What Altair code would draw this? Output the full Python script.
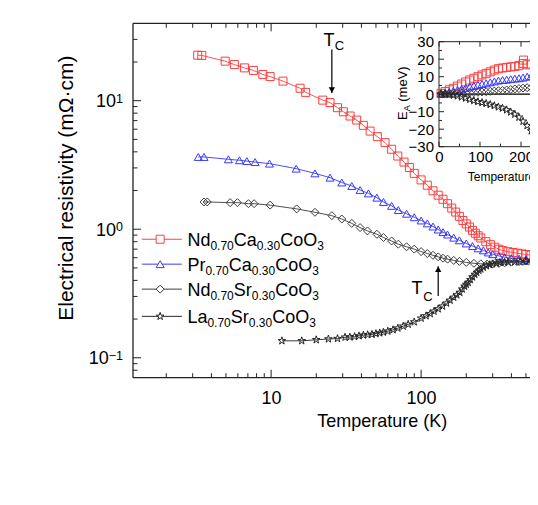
import altair as alt
import pandas as pd

FONT = "Liberation Sans"
FRAME = "#222222"

# ---------------- main panel data (T in K, rho in mOhm cm) ----------------
ndca_T = [3.24, 3.45, 4.94, 5.69, 6.64, 7.62, 8.81, 9.85, 12.0, 15.6, 17.0, 22.1, 24.7, 27.7, 30.3,
          33.6, 37.2, 41.2, 45.7, 51.1, 57.5, 63.6, 69.9, 76.9, 83.5, 90, 100, 110, 120, 130, 140,
          150, 160, 170, 180, 190, 200, 210, 220, 230, 240, 250, 270, 290, 310, 330, 350, 380, 410,
          440, 470, 500, 540, 580, 620]
ndca_rho = [22.6, 22.5, 20.3, 19.1, 18.0, 17.2, 16.0, 15.4, 14.2, 12.5, 11.6, 10.1, 9.67, 8.82, 8.2,
            7.6, 7.07, 6.43, 5.8, 5.25, 4.72, 4.19, 3.71, 3.33, 3.02, 2.72, 2.42, 2.20, 1.99, 1.84, 1.71,
            1.58, 1.46, 1.36, 1.26, 1.17, 1.10, 1.04, 0.98, 0.93, 0.89, 0.855, 0.80, 0.758, 0.725, 0.699,
            0.683, 0.669, 0.659, 0.651, 0.643, 0.636, 0.628, 0.621, 0.615]

prca_T = [3.27, 3.57, 5.19, 6.15, 6.89, 7.82, 9.75, 14.7, 19.6, 24.7, 29.6, 34.5, 39.2, 44.5, 50.7,
          56.1, 63.6, 70.5, 80, 90, 100, 110, 120, 130, 140, 150, 165, 180, 200, 220, 240, 260, 280,
          300, 330, 360, 400, 450, 500, 560, 620]
prca_rho = [3.65, 3.65, 3.50, 3.44, 3.39, 3.33, 3.24, 2.96, 2.72, 2.52, 2.31, 2.17, 2.02, 1.90, 1.76,
            1.63, 1.52, 1.41, 1.32, 1.24, 1.17, 1.11, 1.05, 0.995, 0.95, 0.91, 0.86, 0.82, 0.775, 0.74,
            0.71, 0.685, 0.66, 0.64, 0.62, 0.605, 0.595, 0.59, 0.585, 0.585, 0.585]

ndsr_T = [3.57, 3.75, 5.33, 5.96, 7.06, 7.7, 9.85, 14.8, 19.6, 25.4, 29.6, 34.5, 39.2, 43.9, 50.7,
          56.1, 63.6, 70.5, 80, 90, 100, 110, 120, 130, 140, 150, 165, 180, 200, 225, 250, 275, 300,
          330, 360, 400, 450, 500, 560, 620]
ndsr_rho = [1.63, 1.63, 1.61, 1.61, 1.58, 1.58, 1.54, 1.44, 1.355, 1.275, 1.20, 1.11, 1.03, 0.97, 0.914,
            0.862, 0.81, 0.765, 0.73, 0.70, 0.67, 0.647, 0.627, 0.61, 0.595, 0.585, 0.572, 0.562, 0.552,
            0.543, 0.538, 0.535, 0.537, 0.542, 0.548, 0.555, 0.561, 0.566, 0.569, 0.571]

lasr_T = [11.8, 16.0, 20.0, 24.1, 27.7, 31.1, 33.5, 36, 38.5, 41.2, 44, 47, 50, 53, 56, 60, 65, 70, 76,
          82, 90, 100, 108, 115, 122, 130, 139, 148, 156, 165, 173, 181, 188, 195, 200, 206, 213, 220,
          228, 235, 243, 250, 260, 273, 287, 300, 318, 335, 360, 380, 420, 457, 500, 550, 600]
lasr_rho = [0.1355, 0.1355, 0.138, 0.140, 0.141, 0.1445, 0.145, 0.146, 0.148, 0.150, 0.151, 0.152,
            0.154, 0.156, 0.158, 0.161, 0.165, 0.17, 0.176, 0.182, 0.19, 0.203, 0.212, 0.22, 0.23, 0.24,
            0.252, 0.266, 0.28, 0.295, 0.308, 0.322, 0.342, 0.36, 0.372, 0.385, 0.405, 0.425, 0.445,
            0.461, 0.478, 0.49, 0.505, 0.519, 0.53, 0.537, 0.545, 0.551, 0.553, 0.555, 0.556, 0.557,
            0.56, 0.564, 0.567]

# ---------------- inset data (T in K, E_A in meV) ----------------
in_ndca_T = [5, 15, 25, 35, 45, 55, 65, 75, 85, 95, 105, 115, 125, 135, 145, 155, 165, 175, 185, 195,
             205, 206, 215, 225, 235, 245, 255]
in_ndca_E = [0.5, 1.5, 2.5, 3.4, 4.6, 5.8, 7.0, 8.1, 9.1, 10.0, 11.0, 11.9, 12.8, 13.8, 14.6, 15.0,
             15.3, 15.6, 15.9, 16.3, 17.5, 19.5, 16.8, 17.2, 17.6, 18.0, 18.2]
in_prca_T = [5, 15, 25, 35, 45, 55, 65, 75, 85, 95, 105, 115, 125, 135, 145, 155, 165, 175, 185, 195,
             205, 215, 225, 235, 245]
in_prca_E = [0.3, 0.9, 1.4, 1.9, 2.4, 2.9, 3.6, 4.3, 4.8, 5.3, 5.8, 6.2, 6.8, 7.3, 7.8, 8.1, 8.3, 8.6,
             8.9, 9.1, 9.5, 10.0, 10.4, 11.0, 11.4]
in_ndsr_T = [5, 15, 25, 35, 45, 55, 65, 75, 85, 95, 105, 115, 125, 135, 145, 155, 165, 175, 185, 195,
             205, 215, 225, 235, 245]
in_ndsr_E = [0.2, 0.2, 0.3, 0.5, 0.6, 0.7, 0.8, 0.9, 1.0, 1.1, 1.3, 1.4, 1.6, 1.8, 2.0, 2.2, 2.4, 2.7,
             3.0, 3.2, 3.5, 3.7, 3.8, 3.9, 4.0]
in_lasr_T = [5, 15, 25, 35, 45, 55, 65, 75, 85, 95, 105, 115, 125, 135, 145, 155, 165, 175, 185, 195,
             205, 215, 225, 235, 245]
in_lasr_E = [0.0, -0.1, -0.3, -0.6, -1.0, -1.6, -2.3, -3.0, -3.7, -4.3, -4.8, -5.3, -5.9, -6.6, -7.3,
             -8.0, -9.0, -10.2, -11.5, -13.2, -15.5, -18.0, -21.0, -24.5, -28.5]

# ---------------- categories / ticks ----------------
series_keys = ["NdCa", "PrCa", "NdSr", "LaSr"]
series_colors = ["#ff3d3d", "#3838ff", "#3c3c3c", "#262626"]
STAR = ("M0,-1L0.2245,-0.309L0.951,-0.309L0.363,0.118L0.588,0.809L0,0.382"
        "L-0.588,0.809L-0.363,0.118L-0.951,-0.309L-0.2245,-0.309Z")
series_shapes = ["square", "triangle-up", "diamond", STAR]
series_sizes = [64, 64, 64, 42]
inset_sizes = [26, 26, 22, 26]

legend_parts = [
    [("Nd", 0), ("0.70", 1), ("Ca", 0), ("0.30", 1), ("CoO", 0), ("3", 1)],
    [("Pr", 0), ("0.70", 1), ("Ca", 0), ("0.30", 1), ("CoO", 0), ("3", 1)],
    [("Nd", 0), ("0.70", 1), ("Sr", 0), ("0.30", 1), ("CoO", 0), ("3", 1)],
    [("La", 0), ("0.70", 1), ("Sr", 0), ("0.30", 1), ("CoO", 0), ("3", 1)],
]
legend_rho = [0.836, 0.535, 0.342, 0.21]
legend_T = 1.82

x_labels = [10, 100]
x_major = [10, 100]
x_minor = [2, 3, 4, 5, 6, 7, 8, 9, 20, 30, 40, 50, 60, 70, 80, 90, 200, 300, 400, 500]
y_major = [0.1, 1, 10]
y_exp = ["\u22121", "0", "1"]
y_minor = [0.08, 0.09, 0.2, 0.3, 0.4, 0.5, 0.6, 0.7, 0.8, 0.9, 2, 3, 4, 5, 6, 7, 8, 9, 20, 30]

inset_x_labels = [0, 100, 200, 300]
inset_y_labels = [-30, -20, -10, 0, 10, 20, 30]
inset_x_minor = [50, 150, 250]
inset_y_minor = [-25, -15, -5, 5, 15, 25]

tc_T = [25.4, 130]
tc_tail = [25.0, 0.302]
tc_tip = [11.5, 0.516]

# the figure is cut by the right edge of the window (at about 530 K)
X_DOMAIN = [1.2, 532]
Y_DOMAIN = [0.07, 40]
IX_DOMAIN = [0, 300]
IY_DOMAIN = [-30, 30]
W_PLOT = 397
H_PLOT = 354.4

# Arial / Liberation Sans advance widths (1/1000 em) for composing sub/superscripts
AW = {'0': 556, '1': 556, '2': 556, '3': 556, '4': 556, '5': 556, '6': 556, '7': 556, '8': 556, '9': 556,
      '.': 278, '-': 333, '\u2212': 584, 'N': 722, 'd': 556, 'C': 722, 'a': 556, 'o': 556, 'O': 778,
      'P': 667, 'r': 333, 'S': 667, 'L': 556, 'T': 611, 'E': 667, 'A': 667, ' ': 278, '(': 333,
      ')': 333, 'm': 833, 'e': 556, 'V': 667}


def tw(s, size):
    return sum(AW.get(c, 556) for c in s) * size / 1000.0


ONE = pd.DataFrame({"k": [0]})

# ---------------- main panel ----------------
frames = []
for key, Ts, rs in [("NdCa", ndca_T, ndca_rho), ("PrCa", prca_T, prca_rho),
                    ("NdSr", ndsr_T, ndsr_rho), ("LaSr", lasr_T, lasr_rho)]:
    frames.append(pd.DataFrame({"T": Ts, "rho": rs, "series": key}))
main_df = pd.concat(frames, ignore_index=True)

xs = alt.Scale(type="log", domain=X_DOMAIN, nice=False)
ys = alt.Scale(type="log", domain=Y_DOMAIN, nice=False)
cscale = alt.Scale(domain=series_keys, range=series_colors)
sscale = alt.Scale(domain=series_keys, range=series_shapes)
zscale = alt.Scale(domain=series_keys, range=series_sizes)

x_axis = alt.Axis(values=x_labels, format="d", labelFont=FONT, labelFontSize=18, labelColor="black",
                  labelPadding=12, labelFlush=False, labelOverlap=False, ticks=False, tickSize=0,
                  domain=False, grid=False, title="Temperature (K)", titleFont=FONT, titleFontSize=18,
                  titleFontWeight="normal", titleColor="black", titleX=248.7, titleY=48.5,
                  titleAlign="center", titleBaseline="alphabetic")
y_axis = alt.Axis(labels=False, ticks=False, tickSize=0, domain=False, grid=False,
                  title="Electrical resistivity (m\u03a9\u00b7cm)", titleFont=FONT, titleFontSize=21,
                  titleFontWeight="normal", titleColor="black", titleX=-61, titleY=164.4,
                  titleAngle=270, titleAlign="center", titleBaseline="alphabetic")

lines = alt.Chart(main_df).mark_line(strokeWidth=0.9, clip=True).encode(
    x=alt.X("T:Q", scale=xs, axis=x_axis),
    y=alt.Y("rho:Q", scale=ys, axis=y_axis),
    color=alt.Color("series:N", scale=cscale, legend=None),
    detail="series:N",
)
points = alt.Chart(main_df).mark_point(filled=False, strokeWidth=1, opacity=1).encode(
    x=alt.X("T:Q", scale=xs),
    y=alt.Y("rho:Q", scale=ys),
    color=alt.Color("series:N", scale=cscale, legend=None),
    shape=alt.Shape("series:N", scale=sscale, legend=None),
    size=alt.Size("series:N", scale=zscale, legend=None),
)


def xticks(vals, where, length):
    y0 = Y_DOMAIN[0] if where == "bottom" else Y_DOMAIN[1]
    off = -length if where == "bottom" else length
    return alt.Chart(pd.DataFrame({"T": vals})).mark_rule(color=FRAME, strokeWidth=1, y2Offset=off).encode(
        x=alt.X("T:Q"), y=alt.datum(y0), y2=alt.datum(y0))


def yticks(vals, length):
    x0 = X_DOMAIN[0]
    return alt.Chart(pd.DataFrame({"rho": vals})).mark_rule(color=FRAME, strokeWidth=1, x2Offset=length).encode(
        y=alt.Y("rho:Q"), x=alt.datum(x0), x2=alt.datum(x0))


frame_layers = [
    alt.Chart(ONE).mark_rule(color=FRAME, strokeWidth=1.3).encode(
        x=alt.datum(X_DOMAIN[0]), y=alt.datum(Y_DOMAIN[0]), y2=alt.datum(Y_DOMAIN[1])),
    alt.Chart(ONE).mark_rule(color=FRAME, strokeWidth=1.3).encode(
        y=alt.datum(Y_DOMAIN[0]), x=alt.datum(X_DOMAIN[0]), x2=alt.datum(X_DOMAIN[1])),
    alt.Chart(ONE).mark_rule(color=FRAME, strokeWidth=1.3).encode(
        y=alt.datum(Y_DOMAIN[1]), x=alt.datum(X_DOMAIN[0]), x2=alt.datum(X_DOMAIN[1])),
]

main_layers = [lines, points] + frame_layers + [
    xticks(x_major, "bottom", 8), xticks(x_minor, "bottom", 4.5),
    xticks(x_major, "top", 8), xticks(x_minor, "top", 4.5),
    yticks(y_major, 8), yticks(y_minor, 4.5)]

# y tick labels: "10" with superscript exponent
for v, e in zip(y_major, y_exp):
    ew = tw(e, 12.5)
    main_layers.append(alt.Chart(ONE).mark_text(text="10", font=FONT, fontSize=18, align="right",
                                                baseline="alphabetic", dx=-10 - ew, dy=6.6, color="black")
                       .encode(x=alt.datum(X_DOMAIN[0]), y=alt.datum(v)))
    main_layers.append(alt.Chart(ONE).mark_text(text=e, font=FONT, fontSize=12.5, align="right",
                                                baseline="alphabetic", dx=-10, dy=2.0, color="black")
                       .encode(x=alt.datum(X_DOMAIN[0]), y=alt.datum(v)))

# T_C arrows
tc_df = pd.DataFrame({"T": tc_T, "rho": tc_tail, "tip": tc_tip})
main_layers.append(alt.Chart(tc_df).mark_rule(color="black", strokeWidth=1.2).encode(
    x=alt.X("T:Q"), y=alt.Y("rho:Q"), y2="tip:Q"))
main_layers.append(alt.Chart(tc_df.iloc[[0]]).mark_point(shape="triangle-down", filled=True, color="black",
                                                          size=40, opacity=1, yOffset=-3).encode(
    x=alt.X("T:Q"), y=alt.Y("tip:Q")))
main_layers.append(alt.Chart(tc_df.iloc[[1]]).mark_point(shape="triangle-up", filled=True, color="black",
                                                          size=40, opacity=1, yOffset=3).encode(
    x=alt.X("T:Q"), y=alt.Y("tip:Q")))
# T_C labels (anchored at arrow tails)
for i, (dxT, dyT, dxC, dyC) in enumerate([(-8.4, -3.3, 2.8, 0.7), (-26.6, -2.0, -15.0, 4.7)]):
    main_layers.append(alt.Chart(ONE).mark_text(text="T", font=FONT, fontSize=18, align="left",
                                                baseline="alphabetic", dx=dxT, dy=dyT, color="black")
                       .encode(x=alt.datum(tc_T[i]), y=alt.datum(tc_tail[i])))
    main_layers.append(alt.Chart(ONE).mark_text(text="C", font=FONT, fontSize=13, align="left",
                                                baseline="alphabetic", dx=dxC, dy=dyC, color="black")
                       .encode(x=alt.datum(tc_T[i]), y=alt.datum(tc_tail[i])))

# legend (drawn by hand so that the formulas can carry subscripts)
leg_df = pd.DataFrame({"series": series_keys, "rho": legend_rho})
main_layers.append(alt.Chart(leg_df).mark_rule(strokeWidth=1, xOffset=-18.3, x2Offset=21.7).encode(
    x=alt.datum(legend_T), x2=alt.datum(legend_T), y=alt.Y("rho:Q"),
    color=alt.Color("series:N", scale=cscale, legend=None)))
main_layers.append(alt.Chart(leg_df).mark_point(filled=False, fill="white", fillOpacity=1, strokeWidth=1,
                                                opacity=1).encode(
    x=alt.datum(legend_T), y=alt.Y("rho:Q"),
    color=alt.Color("series:N", scale=cscale, legend=None),
    shape=alt.Shape("series:N", scale=sscale, legend=None),
    size=alt.Size("series:N", scale=zscale, legend=None)))
for r, parts in enumerate(legend_parts):
    off = 27.3
    for txt, sub in parts:
        size = 12 if sub else 18
        main_layers.append(alt.Chart(ONE).mark_text(text=txt, font=FONT, fontSize=size, align="left",
                                                    baseline="alphabetic", dx=off, dy=10.7 if sub else 6.7,
                                                    color="black")
                           .encode(x=alt.datum(legend_T), y=alt.datum(legend_rho[r])))
        off += tw(txt, size)

main = alt.layer(*main_layers)

# ---------------- inset ----------------
iframes = []
for key, Ts, Es in [("NdCa", in_ndca_T, in_ndca_E), ("PrCa", in_prca_T, in_prca_E),
                    ("NdSr", in_ndsr_T, in_ndsr_E), ("LaSr", in_lasr_T, in_lasr_E)]:
    iframes.append(pd.DataFrame({"T": Ts, "E": Es, "series": key}))
inset_df = pd.concat(iframes, ignore_index=True)

ixs = alt.Scale(domain=IX_DOMAIN, range=[306, 429], nice=False, zero=False)
iys = alt.Scale(domain=IY_DOMAIN, range=[123.4, 18.4], nice=False, zero=False)
izscale = alt.Scale(domain=series_keys, range=inset_sizes)
ishape = alt.Scale(domain=series_keys, range=["square", "triangle-up", "circle", STAR])

ix_axis = alt.Axis(orient="bottom", offset=-(H_PLOT - 123.4), values=inset_x_labels, format="d",
                   labelFont=FONT, labelFontSize=15, labelColor="black", labelPadding=3, labelFlush=False,
                   labelOverlap=False, ticks=False, tickSize=0, domain=False, grid=False,
                   title="Temperature (K)", titleFont=FONT, titleFontSize=12, titleFontWeight="normal",
                   titleColor="black", titleX=334.3, titleY=33.6, titleAlign="left",
                   titleBaseline="alphabetic")
iy_axis = alt.Axis(orient="left", offset=-306, values=inset_y_labels, format="d", labelFont=FONT,
                   labelFontSize=15, labelColor="black", labelPadding=5.5, labelFlush=False,
                   labelOverlap=False, ticks=False, tickSize=0, domain=False, grid=False, title=" ")

inset_layers = [
    alt.Chart(ONE).mark_rect(fill="white", stroke=FRAME, strokeWidth=1).encode(
        x=alt.datum(IX_DOMAIN[0]), x2=alt.datum(IX_DOMAIN[1]),
        y=alt.datum(IY_DOMAIN[0]), y2=alt.datum(IY_DOMAIN[1])),
    alt.Chart(ONE).mark_rule(color="black", strokeWidth=1.2).encode(
        x=alt.datum(IX_DOMAIN[0]), x2=alt.datum(IX_DOMAIN[1]), y=alt.datum(0)),
    alt.Chart(inset_df).mark_point(filled=False, strokeWidth=1, opacity=1).encode(
        x=alt.X("T:Q", scale=ixs, axis=ix_axis), y=alt.Y("E:Q", scale=iys, axis=iy_axis),
        color=alt.Color("series:N", scale=cscale, legend=None),
        shape=alt.Shape("series:N", scale=ishape, legend=None),
        size=alt.Size("series:N", scale=izscale, legend=None)),
]
for vals, L in [(inset_x_labels, 5), (inset_x_minor, 3)]:
    d = pd.DataFrame({"T": vals})
    inset_layers.append(alt.Chart(d).mark_rule(color=FRAME, strokeWidth=1, y2Offset=-L).encode(
        x=alt.X("T:Q"), y=alt.datum(IY_DOMAIN[0]), y2=alt.datum(IY_DOMAIN[0])))
    inset_layers.append(alt.Chart(d).mark_rule(color=FRAME, strokeWidth=1, y2Offset=L).encode(
        x=alt.X("T:Q"), y=alt.datum(IY_DOMAIN[1]), y2=alt.datum(IY_DOMAIN[1])))
for vals, L in [(inset_y_labels, 5), (inset_y_minor, 3)]:
    d = pd.DataFrame({"E": vals})
    inset_layers.append(alt.Chart(d).mark_rule(color=FRAME, strokeWidth=1, x2Offset=L).encode(
        y=alt.Y("E:Q"), x=alt.datum(IX_DOMAIN[0]), x2=alt.datum(IX_DOMAIN[0])))

# inset y title  E_A (meV), rotated, anchored at (T=0, E=0)
off = -25.8
for txt, size, dy in [("E", 13, -32), ("A", 9, -29), ("(meV)", 13, -32)]:
    if txt.startswith("("):
        off += tw(" ", size)
    inset_layers.append(alt.Chart(ONE).mark_text(text=txt, font=FONT, fontSize=size, align="left",
                                                 baseline="alphabetic", angle=270, dx=off, dy=dy,
                                                 color="black")
                        .encode(x=alt.datum(0), y=alt.datum(0)))
    off += tw(txt, size)

inset = alt.layer(*inset_layers)

chart = alt.layer(main, inset).resolve_scale(x="independent", y="independent").properties(
    width=W_PLOT, height=H_PLOT,
    padding={"left": 125, "top": 15.3, "right": 0, "bottom": 100},
    autosize=alt.AutoSizeParams(type="none"),
    background="white",
).configure_view(strokeWidth=0)

chart.save("out.html", embed_options={"renderer": "svg", "actions": False})
